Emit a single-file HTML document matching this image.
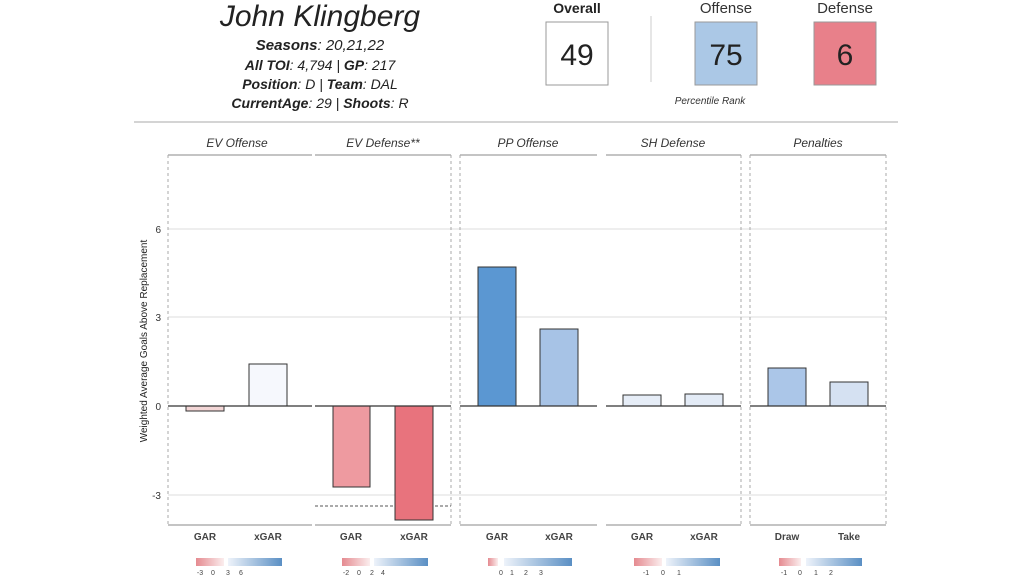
<!DOCTYPE html>
<html><head><meta charset="utf-8"><style>
body{margin:0;width:1024px;height:576px;background:#fff;overflow:hidden;font-family:"Liberation Sans",sans-serif;}
svg text{font-family:"Liberation Sans",sans-serif;}
</style></head><body>
<svg width="1024" height="576" viewBox="0 0 1024 576" xmlns="http://www.w3.org/2000/svg">
<defs>
<linearGradient id="rg" x1="0" x2="1"><stop offset="0" stop-color="#e58a90"/><stop offset="1" stop-color="#fbeeee"/></linearGradient>
<linearGradient id="bg" x1="0" x2="1"><stop offset="0" stop-color="#eef3fa"/><stop offset="1" stop-color="#5a8fc4"/></linearGradient>
</defs>
<!-- header -->
<text x="320" y="26" font-size="30" font-style="italic" text-anchor="middle" fill="#222">John Klingberg</text>
<text x="320" y="50" font-size="15" font-style="italic" text-anchor="middle" fill="#222"><tspan font-weight="bold">Seasons</tspan>: 20,21,22</text>
<text x="320" y="70" font-size="14" font-style="italic" text-anchor="middle" fill="#222"><tspan font-weight="bold">All TOI</tspan>: 4,794 | <tspan font-weight="bold">GP</tspan>: 217</text>
<text x="320" y="89" font-size="14" font-style="italic" text-anchor="middle" fill="#222"><tspan font-weight="bold">Position</tspan>: D | <tspan font-weight="bold">Team</tspan>: DAL</text>
<text x="320" y="108" font-size="14" font-style="italic" text-anchor="middle" fill="#222"><tspan font-weight="bold">CurrentAge</tspan>: 29 | <tspan font-weight="bold">Shoots</tspan>: R</text>
<text x="577" y="13" font-size="14" font-weight="bold" text-anchor="middle" fill="#222">Overall</text>
<rect x="546" y="22" width="62" height="63" fill="#fff" stroke="#999"/>
<text x="577" y="65" font-size="30" text-anchor="middle" fill="#222">49</text>
<line x1="651" y1="16" x2="651" y2="82" stroke="#ccc"/>
<text x="726" y="13" font-size="15" text-anchor="middle" fill="#333">Offense</text>
<rect x="695" y="22" width="62" height="63" fill="#abc8e6" stroke="#999"/>
<text x="726" y="65" font-size="30" text-anchor="middle" fill="#222">75</text>
<text x="710" y="104" font-size="10" font-style="italic" text-anchor="middle" fill="#333">Percentile Rank</text>
<text x="845" y="13" font-size="15" text-anchor="middle" fill="#333">Defense</text>
<rect x="814" y="22" width="62" height="63" fill="#e8808a" stroke="#999"/>
<text x="845" y="65" font-size="30" text-anchor="middle" fill="#222">6</text>
<line x1="134" y1="122" x2="898" y2="122" stroke="#aaa"/>
<!-- y axis -->
<text transform="translate(147,341) rotate(-90)" font-size="10" text-anchor="middle" fill="#222">Weighted Average Goals Above Replacement</text>
<g font-size="10" fill="#333" text-anchor="end">
<text x="161" y="233">6</text><text x="161" y="321">3</text><text x="161" y="410">0</text><text x="161" y="499">-3</text>
</g>
<!-- panels -->
<g id="p">
</g>
<g stroke="#ddd" stroke-width="1">
<line x1="168" y1="229" x2="886" y2="229"/><line x1="168" y1="317" x2="886" y2="317"/><line x1="168" y1="495" x2="886" y2="495"/>
</g>
<g fill="none" stroke="#888" stroke-width="1">
<line x1="168" y1="155" x2="312" y2="155"/><line x1="315" y1="155" x2="451" y2="155"/><line x1="460" y1="155" x2="597" y2="155"/><line x1="606" y1="155" x2="741" y2="155"/><line x1="750" y1="155" x2="886" y2="155"/>
<line x1="168" y1="525" x2="312" y2="525"/><line x1="315" y1="525" x2="451" y2="525"/><line x1="460" y1="525" x2="597" y2="525"/><line x1="606" y1="525" x2="741" y2="525"/><line x1="750" y1="525" x2="886" y2="525"/>
</g>
<g stroke="#aaa" stroke-dasharray="3,3">
<line x1="168" y1="155" x2="168" y2="525"/><line x1="451" y1="155" x2="451" y2="525"/><line x1="460" y1="155" x2="460" y2="525"/><line x1="741" y1="155" x2="741" y2="525"/><line x1="750" y1="155" x2="750" y2="525"/><line x1="886" y1="155" x2="886" y2="525"/>
</g>
<line x1="315" y1="506" x2="451" y2="506" stroke="#555" stroke-dasharray="3,2"/>
<g font-size="12" font-style="italic" fill="#333" text-anchor="middle">
<text x="237" y="147">EV Offense</text><text x="383" y="147">EV Defense**</text><text x="528" y="147">PP Offense</text><text x="673" y="147">SH Defense</text><text x="818" y="147">Penalties</text>
</g>
<g stroke="#333" stroke-width="1">
<rect x="186" y="406" width="38" height="5" fill="#f3d6d6"/>
<rect x="249" y="364" width="38" height="42" fill="#f6f8fd"/>
<rect x="333" y="406" width="37" height="81" fill="#ee9aa0"/>
<rect x="395" y="406" width="38" height="114" fill="#e8737d"/>
<rect x="478" y="267" width="38" height="139" fill="#5b97d2"/>
<rect x="540" y="329" width="38" height="77" fill="#a7c3e6"/>
<rect x="623" y="395" width="38" height="11" fill="#e6edf7"/>
<rect x="685" y="394" width="38" height="12" fill="#e3ebf6"/>
<rect x="768" y="368" width="38" height="38" fill="#abc6e8"/>
<rect x="830" y="382" width="38" height="24" fill="#d5e1f2"/>
</g>
<g stroke="#333" stroke-width="1.3">
<line x1="168" y1="406" x2="312" y2="406"/><line x1="315" y1="406" x2="451" y2="406"/><line x1="460" y1="406" x2="597" y2="406"/><line x1="606" y1="406" x2="741" y2="406"/><line x1="750" y1="406" x2="886" y2="406"/>
</g>
<g font-size="10" font-weight="bold" fill="#444" text-anchor="middle">
<text x="205" y="540">GAR</text><text x="268" y="540">xGAR</text>
<text x="351" y="540">GAR</text><text x="414" y="540">xGAR</text>
<text x="497" y="540">GAR</text><text x="559" y="540">xGAR</text>
<text x="642" y="540">GAR</text><text x="704" y="540">xGAR</text>
<text x="787" y="540">Draw</text><text x="849" y="540">Take</text>
</g>
<!-- legends -->
<g>
<rect x="196" y="558" width="28" height="8" fill="url(#rg)"/><rect x="228" y="558" width="54" height="8" fill="url(#bg)"/>
<rect x="342" y="558" width="28" height="8" fill="url(#rg)"/><rect x="374" y="558" width="54" height="8" fill="url(#bg)"/>
<rect x="488" y="558" width="10" height="8" fill="url(#rg)"/><rect x="504" y="558" width="68" height="8" fill="url(#bg)"/>
<rect x="634" y="558" width="28" height="8" fill="url(#rg)"/><rect x="666" y="558" width="54" height="8" fill="url(#bg)"/>
<rect x="779" y="558" width="22" height="8" fill="url(#rg)"/><rect x="806" y="558" width="56" height="8" fill="url(#bg)"/>
</g>
<g font-size="7" fill="#444" text-anchor="middle">
<text x="200" y="575">-3</text><text x="213" y="575">0</text><text x="228" y="575">3</text><text x="241" y="575">6</text>
<text x="346" y="575">-2</text><text x="359" y="575">0</text><text x="372" y="575">2</text><text x="383" y="575">4</text>
<text x="501" y="575">0</text><text x="512" y="575">1</text><text x="526" y="575">2</text><text x="541" y="575">3</text>
<text x="646" y="575">-1</text><text x="663" y="575">0</text><text x="679" y="575">1</text>
<text x="784" y="575">-1</text><text x="800" y="575">0</text><text x="816" y="575">1</text><text x="831" y="575">2</text>
</g>
</svg>
</body></html>
